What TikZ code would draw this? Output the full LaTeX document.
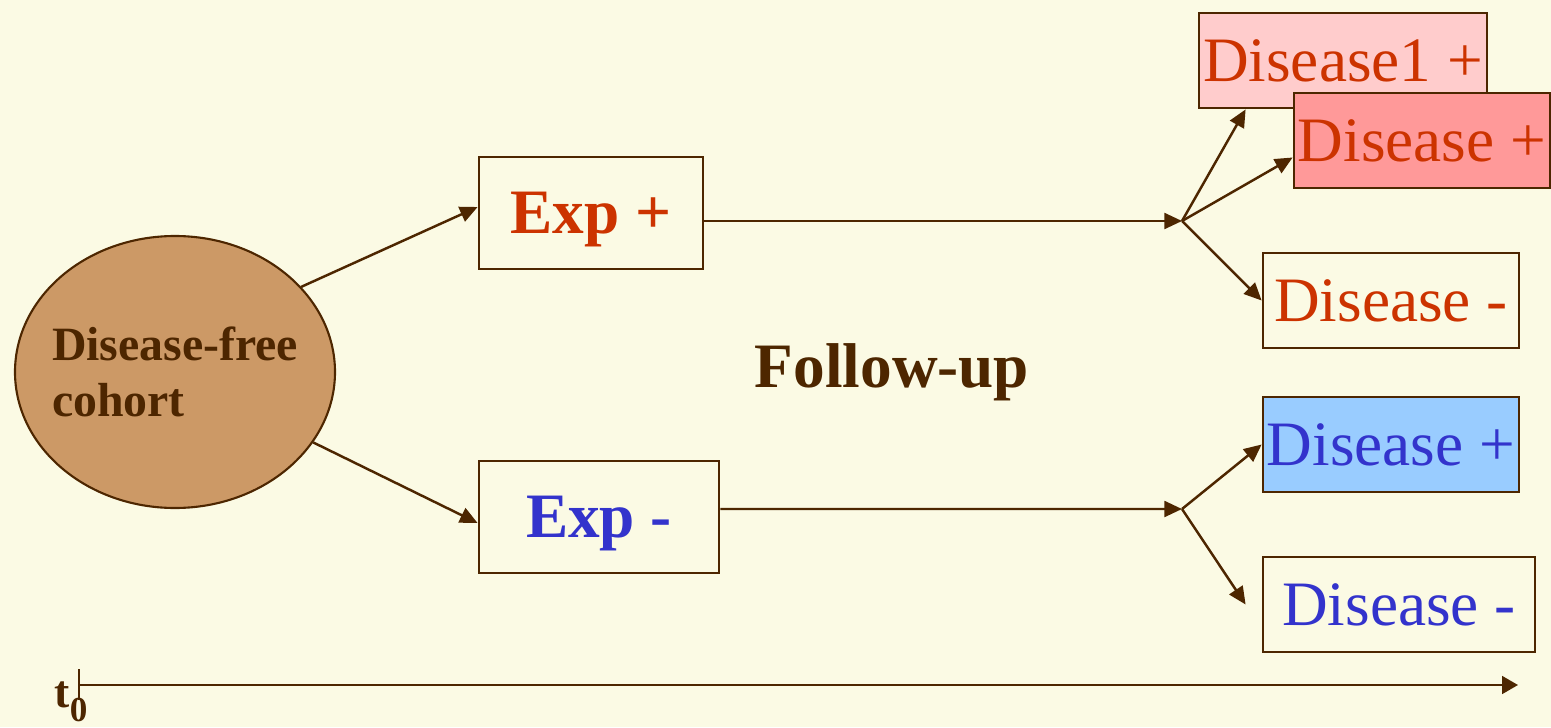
\documentclass[tikz,border=0pt]{standalone}
\usepackage{fontspec}
\setmainfont{Liberation Serif}
\usetikzlibrary{arrows.meta,shapes.geometric}

\definecolor{bg}{RGB}{251,250,228}
\definecolor{ink}{RGB}{77,38,0}
\definecolor{expred}{RGB}{204,51,0}
\definecolor{expblue}{RGB}{51,51,204}
\definecolor{cohortfill}{RGB}{204,153,102}
\definecolor{pinkfill}{RGB}{255,204,204}
\definecolor{salmonfill}{RGB}{255,153,153}
\definecolor{skyfill}{RGB}{153,204,255}

\tikzset{
  conn/.style={draw=ink, line width=0.7pt, -{Triangle[length=5pt,width=4.5pt]}},
  box/.style={draw=ink, line width=0.8pt, fill=bg, inner sep=0pt,
              text height=11.9pt, text depth=0pt},
  big/.style={font=\fontsize{18}{21.6}\selectfont},
  bigbold/.style={font=\fontsize{18}{21.6}\selectfont\bfseries},
  outbox/.style={box, big, minimum height=0.95cm},
}

\begin{document}
\begin{tikzpicture}
  \useasboundingbox[fill=bg] (0,0) rectangle (15.51,7.27);

  % starting cohort
  \node[ellipse, draw=ink, fill=cohortfill, line width=0.6pt,
        minimum width=3.2cm, minimum height=2.72cm, inner sep=0pt,
        label={[align=left, text=ink, inner sep=0pt,
                font=\fontsize{13.6}{16}\selectfont\bfseries]center:Disease-free\\cohort}]
        (coh) at (1.75,3.55) {};

  % exposure groups
  \node[box, bigbold, text=expred, minimum width=2.24cm, minimum height=1.12cm]
        (ep) at (5.91,5.14) {Exp +};
  \node[box, bigbold, text=expblue, minimum width=2.40cm, minimum height=1.12cm]
        (em) at (5.99,2.10) {Exp -};

  \node[bigbold, text=ink, text height=11.9pt, text depth=0pt, inner sep=0pt]
        (fu) at (8.92,3.60) {Follow-up};

  % branching points at the end of follow-up
  \coordinate (bu) at (11.82,5.06);
  \coordinate (bl) at (11.82,2.18);

  % outcomes
  \node[outbox, fill=pinkfill, text=expred, minimum width=2.88cm]
        (d1) at (13.43,6.665) {Disease1 +};
  \node[outbox, fill=salmonfill, text=expred, minimum width=2.56cm]
        (dp) at (14.22,5.865) {Disease +};
  \node[outbox, text=expred, minimum width=2.56cm]
        (dm) at (13.91,4.265) {Disease -};
  \node[outbox, fill=skyfill, text=expblue, minimum width=2.56cm]
        (bp) at (13.91,2.825) {Disease +};
  \node[outbox, text=expblue, minimum width=2.72cm]
        (bm) at (13.99,1.225) {Disease -};

  % connectors
  \draw[conn] (coh.34) -- ([yshift=0.06cm]ep.west);
  \draw[conn] (coh.-27) -- ([yshift=-0.06cm]em.west);
  \draw[conn] ([yshift=-0.08cm]ep.east) -- (bu);
  \draw[conn] ([yshift=0.08cm]em.east) -- (bl);
  \draw[conn] (bu) -- ([xshift=0.48cm]d1.south west);
  \draw[conn] (bu) -- ([yshift=-0.17cm]dp.west);
  \draw[conn] (bu) -- (dm.west);
  \draw[conn] (bl) -- (bp.west);
  \draw[conn] (bl) -- ([xshift=-0.16cm]bm.west);

  % time axis
  \coordinate (t0) at (0.79,0.42);
  \coordinate (tend) at (15.18,0.42);
  \draw[draw=ink, line width=0.7pt, -{Triangle[length=4.5pt,width=5pt]}] (t0) -- (tend);
  \draw[draw=ink, line width=0.6pt] ([yshift=0.16cm]t0) -- ([yshift=-0.15cm]t0);
  \node[text=ink, anchor=base west, inner sep=0pt,
        font=\fontsize{13}{15}\selectfont\bfseries] (tlab) at (0.54,0.20)
        {t\raisebox{-4.2pt}{\fontsize{10}{12}\selectfont 0}};
\end{tikzpicture}
\end{document}
